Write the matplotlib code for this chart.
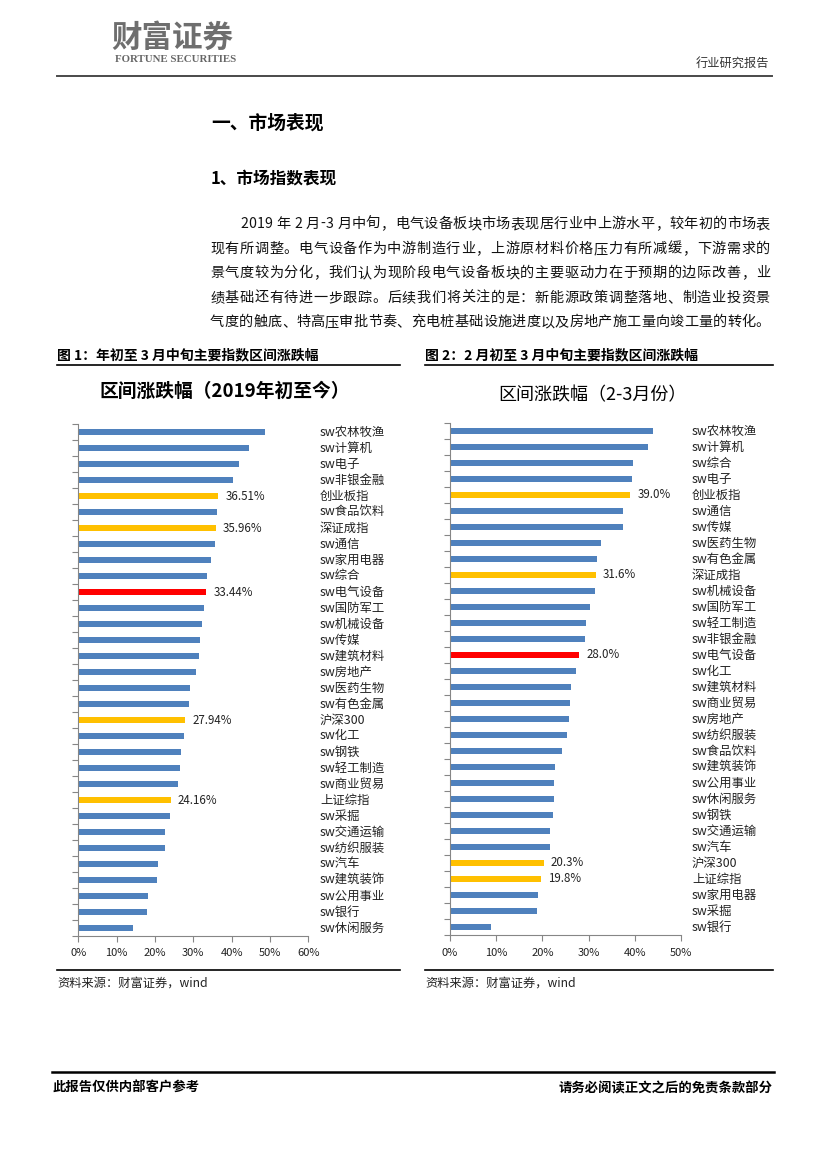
import numpy as np
import matplotlib
matplotlib.use("Agg")
from matplotlib import pyplot as plt
from matplotlib.lines import Line2D

plt.rcParams['font.family'] = ['Noto Sans CJK SC', 'DejaVu Sans']

# chart 1: from start of 2019 to mid March (%)
names1 = ['sw农林牧渔', 'sw计算机', 'sw电子', 'sw非银金融', '创业板指', 'sw食品饮料',
          '深证成指', 'sw通信', 'sw家用电器', 'sw综合', 'sw电气设备', 'sw国防军工',
          'sw机械设备', 'sw传媒', 'sw建筑材料', 'sw房地产', 'sw医药生物', 'sw有色金属',
          '沪深300', 'sw化工', 'sw钢铁', 'sw轻工制造', 'sw商业贸易', '上证综指',
          'sw采掘', 'sw交通运输', 'sw纺织服装', 'sw汽车', 'sw建筑装饰', 'sw公用事业',
          'sw银行', 'sw休闲服务']
vals1 = [48.7, 44.6, 41.8, 40.4, 36.51, 36.25, 35.96, 35.7, 34.7, 33.65, 33.44, 32.9,
         32.35, 31.8, 31.6, 30.6, 29.2, 29.0, 27.94, 27.7, 26.9, 26.6, 26.1, 24.16,
         23.8, 22.7, 22.5, 20.9, 20.6, 18.3, 18.0, 14.4]

# chart 2: from start of Feb to mid March (%)
names2 = ['sw农林牧渔', 'sw计算机', 'sw综合', 'sw电子', '创业板指', 'sw通信', 'sw传媒',
          'sw医药生物', 'sw有色金属', '深证成指', 'sw机械设备', 'sw国防军工', 'sw轻工制造',
          'sw非银金融', 'sw电气设备', 'sw化工', 'sw建筑材料', 'sw商业贸易', 'sw房地产',
          'sw纺织服装', 'sw食品饮料', 'sw建筑装饰', 'sw公用事业', 'sw休闲服务', 'sw钢铁',
          'sw交通运输', 'sw汽车', '沪深300', '上证综指', 'sw家用电器', 'sw采掘', 'sw银行']
vals2 = [43.8, 42.9, 39.5, 39.4, 39.0, 37.4, 37.4, 32.7, 31.8, 31.6, 31.4, 30.3, 29.4,
         29.2, 28.0, 27.3, 26.2, 26.0, 25.8, 25.3, 24.2, 22.7, 22.5, 22.5, 22.3, 21.7,
         21.7, 20.3, 19.8, 19.1, 18.8, 8.9]

ticks1 = [0, 10, 20, 30, 40, 50, 60]
ticks2 = [0, 10, 20, 30, 40, 50]

para = [
    "2019 年 2 月-3 月中旬，电气设备板块市场表现居行业中上游水平，较年初的市场表",
    "现有所调整。电气设备作为中游制造行业，上游原材料价格压力有所减缓，下游需求的",
    "景气度较为分化，我们认为现阶段电气设备板块的主要驱动力在于预期的边际改善，业",
    "绩基础还有待进一步跟踪。后续我们将关注的是：新能源政策调整落地、制造业投资景",
    "气度的触底、特高压审批节奏、充电桩基础设施进度以及房地产施工量向竣工量的转化。",
]

BLUE = '#4F81BD'
GOLD = '#FFC000'
RED = '#FF0000'
AXC = '#868686'

W, H = 827, 1170
fig = plt.figure(figsize=(W / 100, H / 100), dpi=100)
renderer = fig.canvas.get_renderer()

# page layer in pixel coordinates
bg = fig.add_axes([0, 0, 1, 1])
bg.set_xlim(0, W)
bg.set_ylim(H, 0)
bg.axis('off')


def justified(s, x0, x1, y, size):
    # spread the characters so the line fills x0..x1
    txts = [bg.text(0, y, c, fontsize=size, ha='left', va='center', color='#111111')
            for c in s]
    widths = [t.get_window_extent(renderer).width for t in txts]
    gap = (x1 - x0 - sum(widths)) / (len(s) - 1)
    x = x0
    for t, w in zip(txts, widths):
        t.set_x(x)
        x += w + gap


bg.text(172, 38, '财富证券', fontsize=22, color='#6e6e6e', weight='bold',
        ha='center', va='center')
bg.text(176, 60, 'FORTUNE SECURITIES', fontsize=7.8, color='#666666', ha='center',
        va='center', family='Liberation Serif', weight='bold')
bg.text(769, 63, '行业研究报告', fontsize=8.8, color='#333333', ha='right', va='center')
bg.add_line(Line2D([57, 772], [76, 76], color='#4a4a4a', lw=1.4))

bg.text(211, 123, '一、市场表现', fontsize=13.5, weight='bold', ha='left', va='center')
bg.text(211, 178, '1、市场指数表现', fontsize=12, weight='bold', ha='left', va='center')

line_y = [224, 249, 273, 298, 322]
for i, (s, y) in enumerate(zip(para, line_y)):
    x0 = 240 if i == 0 else 210
    justified(s, x0, 770, y, 10.2)

bg.text(57, 355, '图 1：年初至 3 月中旬主要指数区间涨跌幅', fontsize=10, weight='bold',
        ha='left', va='center')
bg.text(425, 355, '图 2：2 月初至 3 月中旬主要指数区间涨跌幅', fontsize=10, weight='bold',
        ha='left', va='center')
bg.add_line(Line2D([57, 400], [365, 365], color='black', lw=1.2))
bg.add_line(Line2D([425, 773], [365, 365], color='black', lw=1.2))

bg.text(225, 391, '区间涨跌幅（2019年初至今）', fontsize=13.5, weight='bold',
        ha='center', va='center')
bg.text(592, 395, '区间涨跌幅（2-3月份）', fontsize=13, ha='center', va='center')

bg.add_line(Line2D([57, 400], [970, 970], color='black', lw=1.2))
bg.add_line(Line2D([425, 773], [970, 970], color='black', lw=1.2))
bg.text(57, 983, '资料来源：财富证券，wind', fontsize=8.8, style='italic',
        ha='left', va='center', color='#222222')
bg.text(425, 983, '资料来源：财富证券，wind', fontsize=8.8, style='italic',
        ha='left', va='center', color='#222222')

bg.add_line(Line2D([52, 774], [1072, 1072], color='black', lw=1.8))
bg.text(53, 1088, '此报告仅供内部客户参考', fontsize=9.6, weight='bold',
        ha='left', va='center')
bg.text(773, 1088, '请务必阅读正文之后的免责条款部分', fontsize=9.6, weight='bold',
        ha='right', va='center')


def bar_colour(name):
    if name == 'sw电气设备':
        return RED
    if not name.startswith('sw'):
        return GOLD
    return BLUE


def draw_chart(rect, names, vals, ticks, fmt, label_x):
    ax = fig.add_axes(rect)
    y = np.arange(len(names))
    cols = [bar_colour(n) for n in names]
    ax.barh(y, vals, height=0.4, color=cols)
    ax.set_xlim(ticks[0], ticks[-1])
    ax.set_ylim(len(names) - 0.5, -0.5)
    ax.set_xticks(ticks)
    ax.set_xticklabels(['%d%%' % t for t in ticks], fontsize=8, color='#222222')
    ax.set_yticks(np.arange(len(names) + 1) - 0.5)
    ax.set_yticklabels([])
    ax.tick_params(axis='y', direction='out', length=4, color=AXC, width=0.8)
    ax.tick_params(axis='x', direction='out', length=4, color=AXC, width=0.8, pad=5)
    for s in ['top', 'right']:
        ax.spines[s].set_visible(False)
    for s in ['left', 'bottom']:
        ax.spines[s].set_color(AXC)
        ax.spines[s].set_linewidth(0.8)
    tr = ax.get_yaxis_transform()
    for i, (n, v) in enumerate(zip(names, vals)):
        ax.text(label_x, i, n, transform=tr, fontsize=8.9, ha='left', va='center',
                color='#222222', clip_on=False)
        if bar_colour(n) != BLUE:
            ax.annotate(fmt % v, (v, i), xytext=(5, 0), textcoords='offset points',
                        fontsize=8.3, ha='left', va='center', color='#222222')
    return ax


draw_chart([78.3 / W, 1 - 936 / H, 230 / W, 512 / H], names1, vals1, ticks1,
           '%.2f%%', (320 - 78.3) / 230)
draw_chart([449.7 / W, 1 - 935 / H, 231.6 / W, 512 / H], names2, vals2, ticks2,
           '%.1f%%', (692 - 449.7) / 231.6)

fig.savefig('out.png', dpi=100)
